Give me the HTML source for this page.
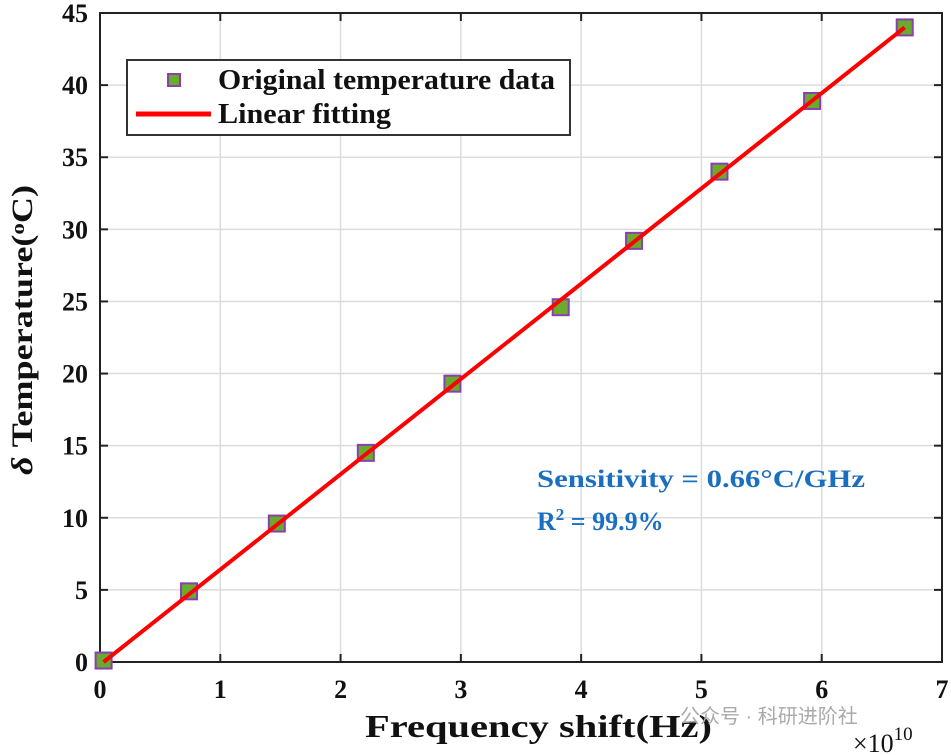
<!DOCTYPE html>
<html><head><meta charset="utf-8"><style>
body{margin:0;background:#fff;}
svg{display:block;font-family:"Liberation Serif",serif;}
</style></head><body>
<svg id="c" width="951" height="755" viewBox="0 0 951 755"></svg>
<script>
const xTicks=[0,1,2,3,4,5,6,7];
const yTicks=[0,5,10,15,20,25,30,35,40,45];
const freqShift=[0.03,0.74,1.47,2.21,2.93,3.83,4.44,5.15,5.92,6.69];
const deltaTemp=[0.1,4.9,9.6,14.5,19.3,24.6,29.2,34.0,38.9,44.0];
const fitX=[0.03,6.69];
const fitY=[0.0,44.0];
const L=100,R=942,T=13,B=662;
const X=v=>L+(v-0)/(7-0)*(R-L);
const Y=v=>B-(v-0)/(45-0)*(B-T);
const svg=document.getElementById('c');
const NS='http://www.w3.org/2000/svg';
function mk(tag,attrs,parent){const e=document.createElementNS(NS,tag);for(const k in attrs)e.setAttribute(k,attrs[k]);(parent||svg).appendChild(e);return e;}
xTicks.forEach(t=>{
 if(t>0&&t<7){const g=mk('line',{x1:X(t),x2:X(t),y1:T,y2:B,stroke:'#dcdcdc','stroke-width':1.5});
 
 }
 const tk=mk('line',{x1:X(t),x2:X(t),y1:B,y2:B-8,stroke:'#222','stroke-width':2});
 
 
 const tk2=mk('line',{x1:X(t),x2:X(t),y1:T,y2:T+8,stroke:'#222','stroke-width':2});
 
 
 const lb=mk('text',{x:X(t),y:B+36,'text-anchor':'middle','font-size':26,'font-weight':'bold',fill:'#111'});
 lb.textContent=t;
 
 
});
yTicks.forEach(t=>{
 if(t>0&&t<45){const g=mk('line',{x1:L,x2:R,y1:Y(t),y2:Y(t),stroke:'#dcdcdc','stroke-width':1.5});
 
 }
 const tk=mk('line',{x1:L,x2:L+8,y1:Y(t),y2:Y(t),stroke:'#222','stroke-width':2});
 
 
 const tk2=mk('line',{x1:R,x2:R-8,y1:Y(t),y2:Y(t),stroke:'#222','stroke-width':2});
 
 
 const lb=mk('text',{x:L-12,y:Y(t)+9,'text-anchor':'end','font-size':26,'font-weight':'bold',fill:'#111'});
 lb.textContent=t;
 
 
});
const frame=mk('rect',{x:L,y:T,width:R-L,height:B-T,fill:'none',stroke:'#222','stroke-width':2});


freqShift.forEach((v,i)=>{
 const p=mk('rect',{x:X(v)-8,y:Y(deltaTemp[i])-8,width:16,height:16,fill:'#6aab2e',stroke:'#8a3fb0','stroke-width':2});
 
 
});
const fl=mk('line',{x1:X(fitX[0]),y1:Y(fitY[0]),x2:X(fitX[1]),y2:Y(fitY[1]),stroke:'#ff0000','stroke-width':4});


</script>
<svg style="position:absolute;left:0;top:0" width="951" height="755">
 <g>
  <rect x="127" y="60" width="443" height="75" fill="#fff" stroke="#333" stroke-width="2"/>
  <rect x="168" y="74" width="12" height="12" fill="#6aab2e" stroke="#8a3fb0" stroke-width="2"/>
  <text x="218" y="89" textLength="337" lengthAdjust="spacingAndGlyphs" font-family="Liberation Serif,serif" font-size="28" font-weight="bold" fill="#111">Original temperature data</text>
  <line x1="136" y1="114" x2="211" y2="114" stroke="#ff0000" stroke-width="5"/>
  <text x="218" y="123" textLength="173" lengthAdjust="spacingAndGlyphs" font-family="Liberation Serif,serif" font-size="28" font-weight="bold" fill="#111">Linear fitting</text>
 </g>
 <text x="537" y="487" textLength="328" lengthAdjust="spacingAndGlyphs" font-family="Liberation Serif,serif" font-size="25" font-weight="bold" fill="#1a6fc0">Sensitivity = 0.66°C/GHz</text>
 <text x="537" y="530" font-family="Liberation Serif,serif" font-size="26" font-weight="bold" fill="#1a6fc0">R<tspan dy="-10" font-size="17">2</tspan><tspan dy="10"> = 99.9%</tspan></text>
 <text x="365" y="737" textLength="347" lengthAdjust="spacingAndGlyphs" font-family="Liberation Serif,serif" font-size="32" font-weight="bold" fill="#111">Frequency shift(Hz)</text>
 <text x="853" y="752" font-family="Liberation Serif,serif" font-size="26" fill="#111">×10<tspan dy="-12" font-size="19">10</tspan></text>
 <text transform="translate(32,330) rotate(-90)" text-anchor="middle" textLength="290" lengthAdjust="spacingAndGlyphs" font-family="Liberation Serif,serif" font-size="30" font-weight="bold" fill="#111"><tspan font-style="italic">δ</tspan> Temperature(<tspan font-size="19" dy="-8">o</tspan><tspan dy="8">C)</tspan></text>
 <text x="680" y="723" font-family="Liberation Sans,Noto Sans CJK SC,sans-serif" font-size="20" fill="#aaa">公众号 · 科研进阶社</text>
</svg>
</body></html>
